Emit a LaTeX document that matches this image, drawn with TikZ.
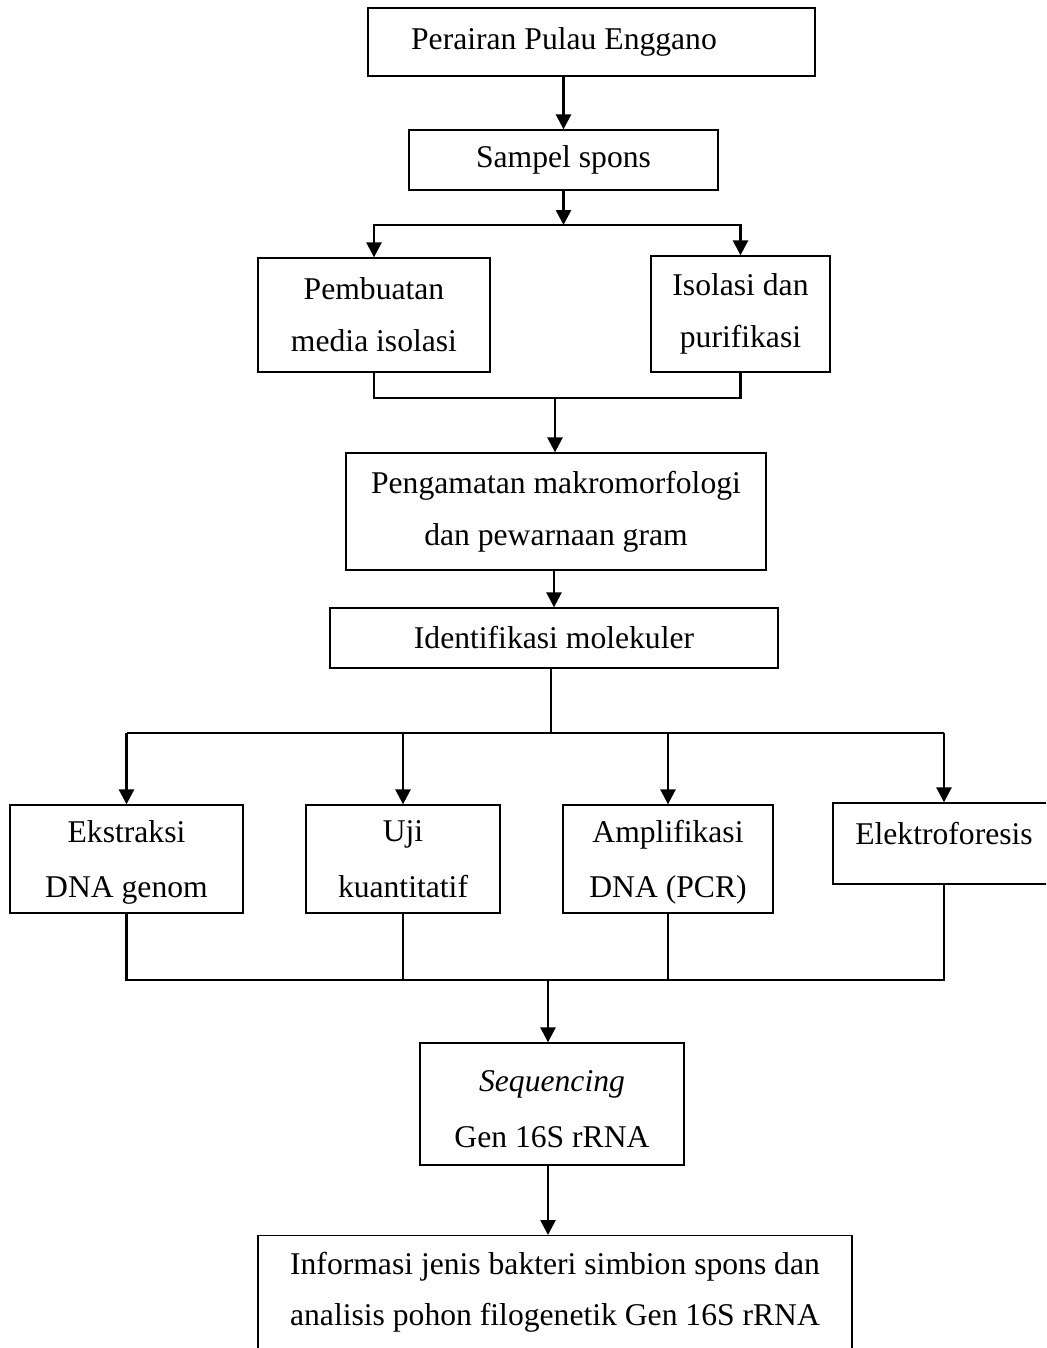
\documentclass[tikz,border=0pt]{standalone}
\usepackage{fontspec}
\setmainfont{Liberation Serif}
\usetikzlibrary{arrows.meta}

\tikzset{
	kotak/.style={draw, line width=0.75pt, align=center, inner sep=0pt, font=\fontsize{18}{29.6}\selectfont},
	kotaklebar/.style={kotak, font=\fontsize{18}{31.5}\selectfont},
	garis/.style={line width=1.5pt},
	panah/.style={garis, -{Triangle[length=0.3cm,width=0.3cm]}},
}

\begin{document}
\begin{tikzpicture}
			\clip (0,0) rectangle (20.92,-26.96);
			\node[kotak, minimum width=8.94cm, minimum height=1.36cm] (perairan) at (11.83,-0.84) {Perairan Pulau Enggano\hspace*{1.1cm}};
			\node[kotak, minimum width=6.18cm, minimum height=1.2cm] (sampel) at (11.27,-3.2) {Sampel spons};
			\node[kotak, minimum width=4.64cm, minimum height=2.28cm] (media) at (7.48,-6.3) {Pembuatan\\media isolasi};
			\node[kotak, minimum width=3.58cm, minimum height=2.32cm] (isolasi) at (14.81,-6.28) {Isolasi dan\\purifikasi};
			\node[kotak, minimum width=8.4cm, minimum height=2.34cm] (pengamatan) at (11.12,-10.23) {Pengamatan makromorfologi\\dan pewarnaan gram};
			\node[kotak, minimum width=8.96cm, minimum height=1.2cm] (identifikasi) at (11.08,-12.76) {Identifikasi molekuler};
			\node[kotaklebar, minimum width=4.66cm, minimum height=2.16cm, text depth=0cm] (ekstraksi) at (2.53,-17.18) {Ekstraksi\\DNA genom};
			\node[kotaklebar, minimum width=3.88cm, minimum height=2.16cm, text depth=0cm] (uji) at (8.06,-17.18) {Uji\\kuantitatif};
			\node[kotaklebar, minimum width=4.2cm, minimum height=2.16cm, text depth=0cm] (amplifikasi) at (13.36,-17.18) {Amplifikasi\\DNA (PCR)};
			\node[kotak, minimum width=4.44cm, minimum height=1.62cm, text depth=0.4cm] (elektro) at (18.88,-16.87) {Elektroforesis};
			\node[kotaklebar, minimum width=5.28cm, minimum height=2.44cm, text height=1.73cm, text depth=0cm] (sequencing) at (11.04,-22.08) {\textit{Sequencing}\\Gen 16S rRNA};
			\node[kotak, anchor=north, minimum width=11.88cm, inner ysep=0.34cm, text depth=2.6cm, font=\fontsize{18}{28.6}\selectfont] (informasi) at (11.1,-24.7) {Informasi jenis bakteri simbion spons dan\\analisis pohon filogenetik Gen 16S rRNA};
			\coordinate (cabang1) at (11.27,-4.5);
			\coordinate (gabung1) at (11.1,-7.96);
			\coordinate (cabang2) at (11.02,-14.66);
			\coordinate (gabung2) at (10.96,-19.6);
			\draw[panah] (sampel.north |- perairan.south) -- (sampel.north);
			\draw[panah] (sampel.south) -- (cabang1);
			\draw[panah] (cabang1) -| (media.north);
			\draw[panah] (cabang1) -| (isolasi.north);
			\draw[garis] (media.south) |- (gabung1) -| (isolasi.south);
			\draw[panah] (gabung1) -- (gabung1 |- pengamatan.north);
			\draw[panah] (identifikasi.north |- pengamatan.south) -- (identifikasi.north);
			\draw[garis] (cabang2 |- identifikasi.south) -- (cabang2);
			\draw[garis] (ekstraksi.north |- cabang2) -- (elektro.north |- cabang2);
			\draw[panah] (ekstraksi.north |- cabang2) -- (ekstraksi.north);
			\draw[panah] (uji.north |- cabang2) -- (uji.north);
			\draw[panah] (amplifikasi.north |- cabang2) -- (amplifikasi.north);
			\draw[panah] (elektro.north |- cabang2) -- (elektro.north);
			\draw[garis] (ekstraksi.south) |- (elektro.south |- gabung2) -- (elektro.south);
			\draw[garis] (uji.south) -- (uji.south |- gabung2);
			\draw[garis] (amplifikasi.south) -- (amplifikasi.south |- gabung2);
			\draw[panah] (gabung2) -- (gabung2 |- sequencing.north);
			\draw[panah] (gabung2 |- sequencing.south) -- (gabung2 |- informasi.north);
		\end{tikzpicture}
\end{document}
